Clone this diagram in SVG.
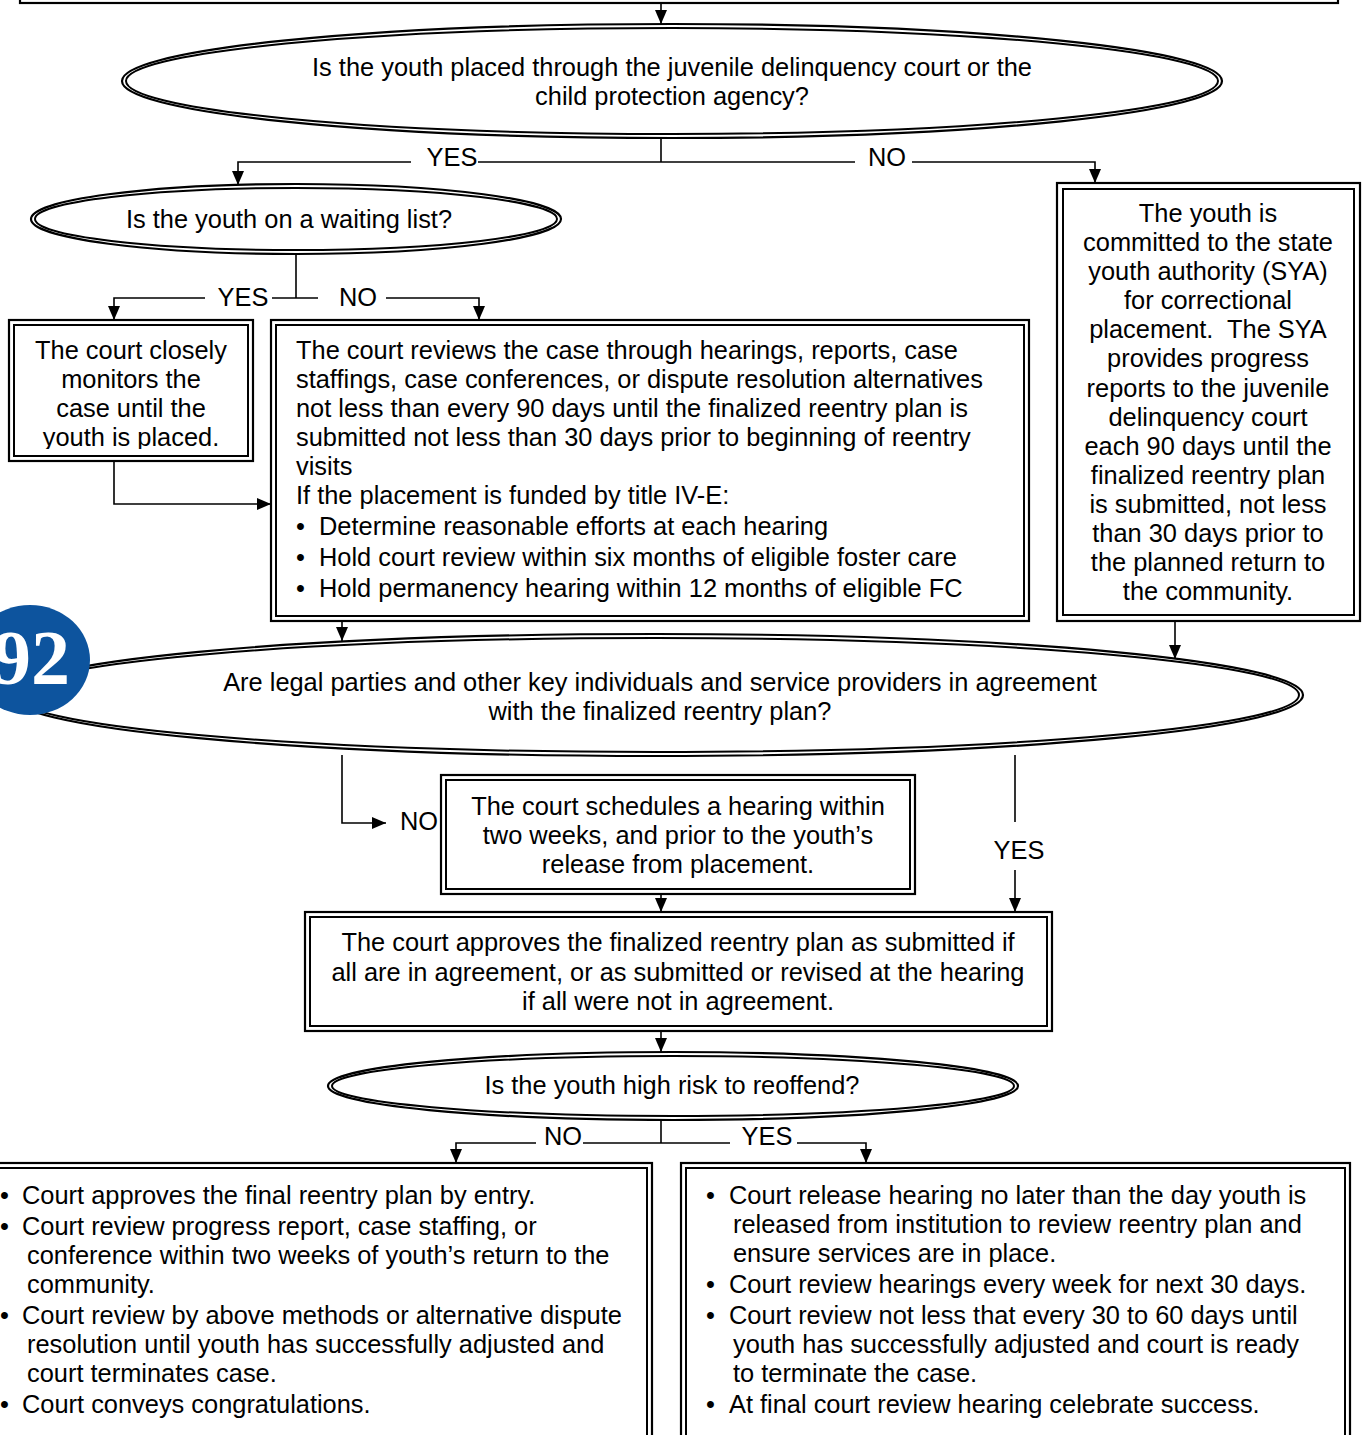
<svg xmlns="http://www.w3.org/2000/svg" width="1364" height="1435" viewBox="0 0 1364 1435">
<style>
.t{font-family:"Liberation Sans",Arial,sans-serif;font-size:25.4px;fill:#000}
.c{text-anchor:middle}
.o{fill:#fff;stroke:#000;stroke-width:2.2}
.i{fill:none;stroke:#000;stroke-width:2}
.ln{fill:none;stroke:#000;stroke-width:1.6}
</style>
<defs>
<marker id="ah" markerUnits="userSpaceOnUse" markerWidth="14" markerHeight="12" viewBox="0 0 14 12" refX="14" refY="6" orient="auto">
<path d="M0,0 L14,6 L0,12 z" fill="#000"/>
</marker>
<clipPath id="cb1"><rect x="14" y="325" width="234" height="124"/></clipPath>
</defs>
<rect width="1364" height="1435" fill="#fff"/>

<g id="top-box">
<rect class="o" x="20" y="-60" width="1318" height="63"/>
<rect class="i" x="25" y="-55" width="1308" height="53"/>
</g>

<g id="connectors">
<path class="ln" d="M661,3 V24" marker-end="url(#ah)"/>
<path class="ln" d="M661,138 V162"/>
<path class="ln" d="M411,162 H238 V185" marker-end="url(#ah)"/>
<path class="ln" d="M478,162 H855"/>
<path class="ln" d="M912,162 H1095 V183" marker-end="url(#ah)"/>
<path class="ln" d="M296,254 V298"/>
<path class="ln" d="M205,298 H114 V320" marker-end="url(#ah)"/>
<path class="ln" d="M272,298 H318"/>
<path class="ln" d="M386,298 H479 V320" marker-end="url(#ah)"/>
<path class="ln" d="M114,461 V504 H271" marker-end="url(#ah)"/>
<path class="ln" d="M342,621 V641" marker-end="url(#ah)"/>
<path class="ln" d="M1175,621 V659" marker-end="url(#ah)"/>
<path class="ln" d="M342,755 V823 H386" marker-end="url(#ah)"/>
<path class="ln" d="M1015,755 V822"/>
<path class="ln" d="M1015,870 V912" marker-end="url(#ah)"/>
<path class="ln" d="M661,894 V912" marker-end="url(#ah)"/>
<path class="ln" d="M661,1031 V1052" marker-end="url(#ah)"/>
<path class="ln" d="M661,1120 V1143"/>
<path class="ln" d="M536,1143 H456 V1163" marker-end="url(#ah)"/>
<path class="ln" d="M583,1143 H730"/>
<path class="ln" d="M797,1143 H866 V1163" marker-end="url(#ah)"/>
<text class="t c" x="452" y="166">YES</text>
<text class="t c" x="887" y="166">NO</text>
<text class="t c" x="243" y="306">YES</text>
<text class="t c" x="358" y="306">NO</text>
<text class="t" x="400" y="830">NO</text>
<text class="t c" x="1019" y="859">YES</text>
<text class="t c" x="563" y="1145">NO</text>
<text class="t c" x="767" y="1145">YES</text>
</g>

<g id="q-placed">
<ellipse class="o" cx="672" cy="81" rx="550" ry="57"/>
<ellipse class="i" cx="672" cy="81" rx="546" ry="53"/>
<text class="t c" x="672" y="76">Is the youth placed through the juvenile delinquency court or the</text>
<text class="t c" x="672" y="105">child protection agency?</text>
</g>

<g id="q-waiting">
<ellipse class="o" cx="296" cy="219" rx="265" ry="35"/>
<ellipse class="i" cx="296" cy="219" rx="261" ry="31"/>
<text class="t c" x="289" y="228">Is the youth on a waiting list?</text>
</g>

<g id="b-monitor">
<rect class="o" x="9" y="320" width="244" height="141"/>
<rect class="i" x="14" y="325" width="234" height="131"/>
<g clip-path="url(#cb1)">
<text class="t c" x="131" y="359">The court closely</text>
<text class="t c" x="131" y="388">monitors the</text>
<text class="t c" x="131" y="417">case until the</text>
<text class="t c" x="131" y="446">youth is placed.</text>
</g>
</g>

<g id="b-review">
<rect class="o" x="271" y="320" width="758" height="301"/>
<rect class="i" x="276" y="325" width="748" height="291"/>
<text class="t" x="296" y="359">The court reviews the case through hearings, reports, case</text>
<text class="t" x="296" y="388">staffings, case conferences, or dispute resolution alternatives</text>
<text class="t" x="296" y="417">not less than every 90 days until the finalized reentry plan is</text>
<text class="t" x="296" y="446">submitted not less than 30 days prior to beginning of reentry</text>
<text class="t" x="296" y="475">visits</text>
<text class="t" x="296" y="504">If the placement is funded by title IV-E:</text>
<text class="t" x="296" y="535">•</text>
<text class="t" x="319" y="535">Determine reasonable efforts at each hearing</text>
<text class="t" x="296" y="566">•</text>
<text class="t" x="319" y="566">Hold court review within six months of eligible foster care</text>
<text class="t" x="296" y="597">•</text>
<text class="t" x="319" y="597">Hold permanency hearing within 12 months of eligible FC</text>
</g>

<g id="b-sya">
<rect class="o" x="1057" y="183" width="303" height="438"/>
<rect class="i" x="1063" y="189" width="291" height="426"/>
<text class="t c" x="1208" y="222">The youth is</text>
<text class="t c" x="1208" y="251">committed to the state</text>
<text class="t c" x="1208" y="280">youth authority (SYA)</text>
<text class="t c" x="1208" y="309">for correctional</text>
<text class="t c" x="1208" y="338">placement.&#160; The SYA</text>
<text class="t c" x="1208" y="367">provides progress</text>
<text class="t c" x="1208" y="397">reports to the juvenile</text>
<text class="t c" x="1208" y="426">delinquency court</text>
<text class="t c" x="1208" y="455">each 90 days until the</text>
<text class="t c" x="1208" y="484">finalized reentry plan</text>
<text class="t c" x="1208" y="513">is submitted, not less</text>
<text class="t c" x="1208" y="542">than 30 days prior to</text>
<text class="t c" x="1208" y="571">the planned return to</text>
<text class="t c" x="1208" y="600">the community.</text>
</g>

<g id="q-agreement">
<ellipse class="o" cx="656" cy="695" rx="647" ry="61"/>
<ellipse class="i" cx="656" cy="695" rx="643" ry="57"/>
<text class="t c" x="660" y="691">Are legal parties and other key individuals and service providers in agreement</text>
<text class="t c" x="660" y="720">with the finalized reentry plan?</text>
</g>

<g id="badge">
<ellipse cx="30" cy="660" rx="60" ry="55" fill="#0D549E"/>
<text x="70" y="684" text-anchor="end" font-family="Liberation Serif,serif" font-weight="bold" font-size="78" fill="#fff">92</text>
</g>

<g id="b-schedule">
<rect class="o" x="441" y="775" width="474" height="119"/>
<rect class="i" x="446" y="780" width="464" height="109"/>
<text class="t c" x="678" y="815">The court schedules a hearing within</text>
<text class="t c" x="678" y="844">two weeks, and prior to the youth’s</text>
<text class="t c" x="678" y="873">release from placement.</text>
</g>

<g id="b-approve">
<rect class="o" x="305" y="912" width="747" height="119"/>
<rect class="i" x="310" y="917" width="737" height="109"/>
<text class="t c" x="678" y="951">The court approves the finalized reentry plan as submitted if</text>
<text class="t c" x="678" y="981">all are in agreement, or as submitted or revised at the hearing</text>
<text class="t c" x="678" y="1010">if all were not in agreement.</text>
</g>

<g id="q-risk">
<ellipse class="o" cx="673" cy="1086" rx="345" ry="34"/>
<ellipse class="i" cx="673" cy="1086" rx="341" ry="30"/>
<text class="t c" x="672" y="1094">Is the youth high risk to reoffend?</text>
</g>

<g id="b-low-risk">
<rect class="o" x="-10" y="1163" width="662" height="300"/>
<rect class="i" x="-5" y="1168" width="652" height="290"/>
<text class="t" x="0" y="1204">•</text>
<text class="t" x="22" y="1204">Court approves the final reentry plan by entry.</text>
<text class="t" x="0" y="1235">•</text>
<text class="t" x="22" y="1235">Court review progress report, case staffing, or</text>
<text class="t" x="27" y="1264">conference within two weeks of youth’s return to the</text>
<text class="t" x="27" y="1293">community.</text>
<text class="t" x="0" y="1324">•</text>
<text class="t" x="22" y="1324">Court review by above methods or alternative dispute</text>
<text class="t" x="27" y="1353">resolution until youth has successfully adjusted and</text>
<text class="t" x="27" y="1382">court terminates case.</text>
<text class="t" x="0" y="1413">•</text>
<text class="t" x="22" y="1413">Court conveys congratulations.</text>
</g>

<g id="b-high-risk">
<rect class="o" x="681" y="1163" width="669" height="300"/>
<rect class="i" x="686" y="1168" width="659" height="290"/>
<text class="t" x="706" y="1204">•</text>
<text class="t" x="729" y="1204">Court release hearing no later than the day youth is</text>
<text class="t" x="733" y="1233">released from institution to review reentry plan and</text>
<text class="t" x="733" y="1262">ensure services are in place.</text>
<text class="t" x="706" y="1293">•</text>
<text class="t" x="729" y="1293">Court review hearings every week for next 30 days.</text>
<text class="t" x="706" y="1324">•</text>
<text class="t" x="729" y="1324">Court review not less that every 30 to 60 days until</text>
<text class="t" x="733" y="1353">youth has successfully adjusted and court is ready</text>
<text class="t" x="733" y="1382">to terminate the case.</text>
<text class="t" x="706" y="1413">•</text>
<text class="t" x="729" y="1413">At final court review hearing celebrate success.</text>
</g>
</svg>
